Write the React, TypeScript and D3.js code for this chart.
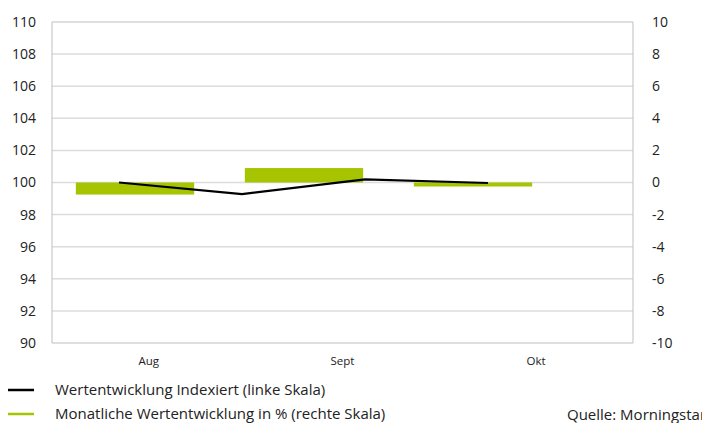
import React from 'react';
import * as d3 from 'd3';

const months = ['Aug', 'Sept', 'Okt'];
const monthlyReturn = [-0.75, 0.9, -0.25]; // % (right scale)
const lineDates = ['Jul', 'Aug', 'Sept', 'Okt'];
const indexed = [100, 99.28, 100.2, 99.97]; // left scale
const leftTicks = [90, 92, 94, 96, 98, 100, 102, 104, 106, 108, 110];
const rightTicks = [-10, -8, -6, -4, -2, 0, 2, 4, 6, 8, 10];

const W = 702;
const H = 423;
const plot = { left: 52, right: 633, top: 22, bottom: 343 };
const green = '#a6c400';
const font = '"Open Sans", "Noto Sans", sans-serif';

export default function App() {
  const yLeft = d3.scaleLinear().domain([90, 110]).range([plot.bottom, plot.top]);
  const yRight = d3.scaleLinear().domain([-10, 10]).range([plot.bottom, plot.top]);
  const xCat = d3.scaleBand().domain(months).range([plot.left, plot.right]);
  // bars and line sit on their own offsets (as in the original Excel chart)
  const xBar = d3.scaleLinear().domain([-0.5, 2.5]).range([50.5, 557.5]);
  const barW = xBar(0.7) - xBar(0);
  const xLine = d3.scalePoint().domain(lineDates).range([119, 488]);

  const linePath = d3
    .line<number>()
    .x((_, i) => xLine(lineDates[i]) as number)
    .y((d) => yLeft(d))(indexed);

  return (
    <svg width={W} height={H} style={{ position: 'absolute', left: 0, top: 0, fontFamily: font }}>
      <rect width={W} height={H} fill="#fff" />
      {leftTicks.map((t) => (
        <line key={t} x1={plot.left} x2={plot.right} y1={yLeft(t)} y2={yLeft(t)}
          stroke={t === 90 || t === 110 ? '#bfbfbf' : '#dcdcdc'} strokeWidth={t === 90 || t === 110 ? 1 : 1.5} />
      ))}
      <line x1={plot.left} x2={plot.left} y1={plot.top} y2={plot.bottom} stroke="#bfbfbf" />
      <line x1={plot.right} x2={plot.right} y1={plot.top} y2={plot.bottom} stroke="#bfbfbf" />

      {monthlyReturn.map((v, i) => (
        <rect key={i} x={xBar(i) - barW / 2} width={barW}
          y={Math.min(yRight(v), yRight(0))} height={Math.abs(yRight(v) - yRight(0))} fill={green} />
      ))}

      <path d={linePath ?? ''} fill="none" stroke="#000" strokeWidth={2.2} />

      {leftTicks.map((t) => (
        <text key={t} x={36} y={yLeft(t)} dy="0.35em" textAnchor="end" fontSize={14} fill="#222">{t}</text>
      ))}
      {rightTicks.map((t) => (
        <text key={t} x={652} y={yRight(t)} dy="0.35em" textAnchor="start" fontSize={14} fill="#222">{t}</text>
      ))}
      {months.map((m) => (
        <text key={m} x={(xCat(m) as number) + xCat.bandwidth() / 2} y={361} dy="0.35em"
          textAnchor="middle" fontSize={11.5} fill="#222">{m}</text>
      ))}

      <line x1={8} x2={34} y1={390} y2={390} stroke="#000" strokeWidth={2.5} />
      <text x={55} y={390} dy="0.35em" fontSize={15} fill="#222">Wertentwicklung Indexiert (linke Skala)</text>
      <line x1={8} x2={34} y1={414} y2={414} stroke={green} strokeWidth={2.5} />
      <text x={55} y={414} dy="0.35em" fontSize={15} fill="#222">Monatliche Wertentwicklung in % (rechte Skala)</text>
      <text x={567} y={415} dy="0.35em" fontSize={15} fill="#222">Quelle: Morningstar</text>
    </svg>
  );
}
